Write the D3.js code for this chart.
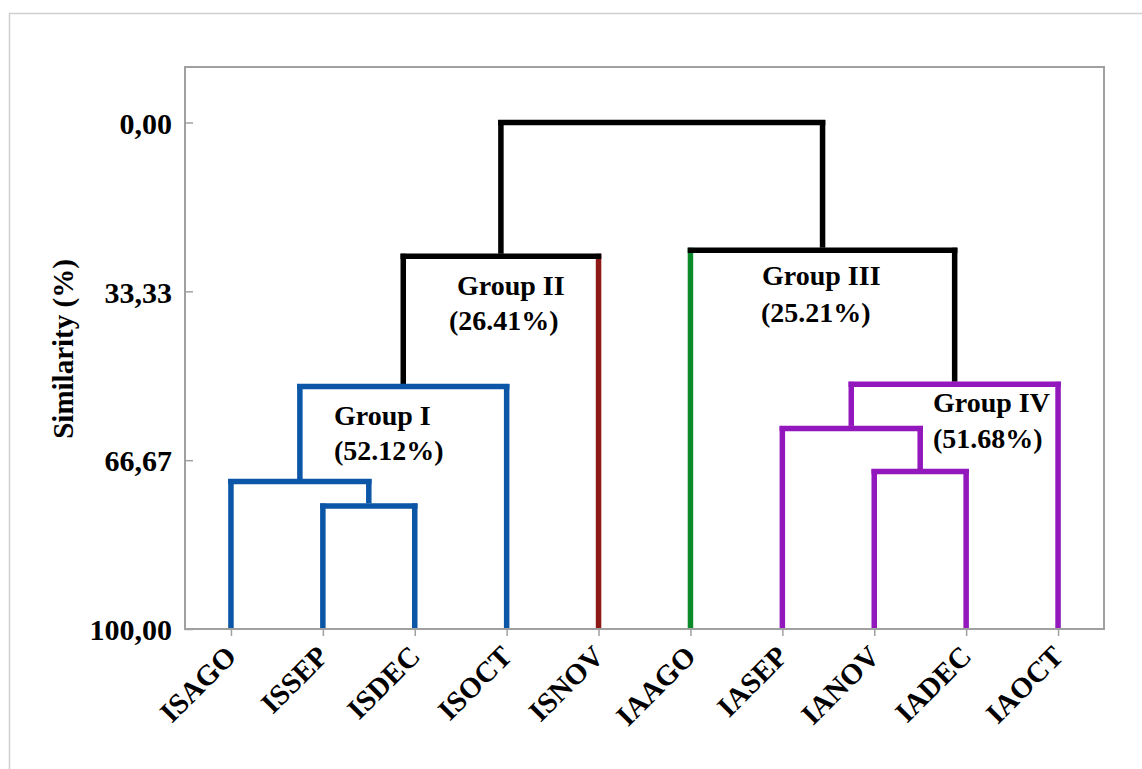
<!DOCTYPE html>
<html>
<head>
<meta charset="utf-8">
<script src="https://cdn.jsdelivr.net/npm/d3@7"></script>
<style>
  body { margin: 0; background: #fff; }
  text { font-family: "Liberation Serif", "Times New Roman", serif; font-weight: bold; fill: #000; }
</style>
</head>
<body>
<svg width="1142" height="769"></svg>
<script>
// leaves, left to right
const leaves = ['ISAGO', 'ISSEP', 'ISDEC', 'ISOCT', 'ISNOV', 'IAAGO', 'IASEP', 'IANOV', 'IADEC', 'IAOCT'];
const leafColors = ['#0b56a6', '#0b56a6', '#0b56a6', '#0b56a6', '#8e1a17', '#0b8a2a', '#9217bd', '#9217bd', '#9217bd', '#9217bd'];

// merges: [left, right, similarity, colour]; ids < 10 are leaves, 10+ are merges in order
const mergeLeft   = [1, 0, 11, 12, 7, 6, 15, 5, 13];
const mergeRight  = [2, 10, 3, 4, 8, 14, 9, 16, 17];
const mergeHeight = [75.7, 70.9, 52.12, 26.41, 68.9, 60.4, 51.68, 25.21, 0];
const mergeColors = ['#0b56a6', '#0b56a6', '#0b56a6', '#000', '#9217bd', '#9217bd', '#9217bd', '#000', '#000'];

const yTicks = [0, 33.33, 66.67, 100];
const yTickLabels = ['0,00', '33,33', '66,67', '100,00'];
const yAxisLabelText = 'Similarity (%)';

const groupLabels = ['Group I', 'Group II', 'Group III', 'Group IV'];
const groupPercents = ['(52.12%)', '(26.41%)', '(25.21%)', '(51.68%)'];

const svg = d3.select('svg');

// outer border
svg.append('rect')
  .attr('x', 9.5).attr('y', 13.5)
  .attr('width', 1150).attr('height', 800)
  .attr('fill', 'none')
  .attr('stroke', '#d0d0d0')
  .attr('stroke-width', 1.5);

const frame = { left: 185, right: 1104, top: 67, bottom: 629 };

const xScale = d3.scalePoint()
  .domain(leaves)
  .range([frame.left, frame.right])
  .padding(0.5);

const yScale = d3.scaleLinear()
  .domain([0, 100])
  .range([122.5, frame.bottom]);

// node positions
const nodeX = leaves.map(d => xScale(d));
const nodeY = leaves.map(() => yScale(100));
mergeLeft.forEach((l, i) => {
  nodeX.push((nodeX[l] + nodeX[mergeRight[i]]) / 2);
  nodeY.push(yScale(mergeHeight[i]));
});
const childColor = (c, i) => c < leaves.length ? leafColors[c] : mergeColors[i];

// plot frame
svg.append('rect')
  .attr('x', frame.left).attr('y', frame.top)
  .attr('width', frame.right - frame.left)
  .attr('height', frame.bottom - frame.top)
  .attr('fill', 'none')
  .attr('stroke', '#a0a0a0')
  .attr('stroke-width', 2);

// axes
const yAxis = d3.axisLeft(yScale)
  .tickValues(yTicks)
  .tickFormat((d, i) => yTickLabels[i])
  .tickSize(-8)
  .tickPadding(13);

const yAxisG = svg.append('g')
  .attr('transform', `translate(${frame.left},0)`)
  .call(yAxis);
yAxisG.select('.domain').remove();
yAxisG.selectAll('line').attr('stroke', '#a0a0a0').attr('stroke-width', 1.5);
yAxisG.selectAll('text')
  .style('font-size', '30px')
  .attr('dy', '0.36em');

const xAxis = d3.axisBottom(xScale).tickSize(7).tickFormat('');
const xAxisG = svg.append('g')
  .attr('transform', `translate(0,${frame.bottom})`)
  .call(xAxis);
xAxisG.select('.domain').remove();
xAxisG.selectAll('line').attr('stroke', '#a0a0a0').attr('stroke-width', 1.5);

svg.append('g').selectAll('text').data(leaves)
  .enter().append('text')
    .attr('transform', d => `translate(${xScale(d) + 7},${frame.bottom + 29}) rotate(-45)`)
    .attr('text-anchor', 'end')
    .style('font-size', '29px')
    .text(d => d);

svg.append('text')
  .attr('transform', `translate(73,${(260 + 438) / 2}) rotate(-90)`)
  .attr('text-anchor', 'middle')
  .style('font-size', '29px')
  .text(yAxisLabelText);

// dendrogram links
const links = svg.append('g')
  .attr('fill', 'none')
  .attr('stroke-width', 5.5);

mergeLeft.forEach((l, i) => {
  const r = mergeRight[i];
  const id = leaves.length + i;
  const y = nodeY[id];
  [l, r].forEach(c => {
    links.append('line')
      .attr('x1', nodeX[c]).attr('x2', nodeX[c])
      .attr('y1', nodeY[c] - (c < leaves.length ? 1 : 2.5)).attr('y2', y - 2.5)
      .attr('stroke', childColor(c, i));
  });
});
mergeLeft.forEach((l, i) => {
  const r = mergeRight[i];
  const y = nodeY[leaves.length + i];
  links.append('line')
    .attr('x1', nodeX[l] - 2.75).attr('x2', nodeX[r] + 2.75)
    .attr('y1', y).attr('y2', y)
    .attr('stroke', mergeColors[i]);
});

// group labels
const labelPos = [[334, 425], [457, 295], [762, 285], [933, 412]];
const labelPos2 = [[334, 460], [449, 330], [761, 322], [933, 448]];
svg.append('g').selectAll('text').data(groupLabels)
  .enter().append('text')
    .attr('x', (d, i) => labelPos[i][0])
    .attr('y', (d, i) => labelPos[i][1])
    .style('font-size', '28px')
    .text(d => d);
svg.append('g').selectAll('text').data(groupPercents)
  .enter().append('text')
    .attr('x', (d, i) => labelPos2[i][0])
    .attr('y', (d, i) => labelPos2[i][1])
    .style('font-size', '28px')
    .text(d => d);
</script>
</body>
</html>
